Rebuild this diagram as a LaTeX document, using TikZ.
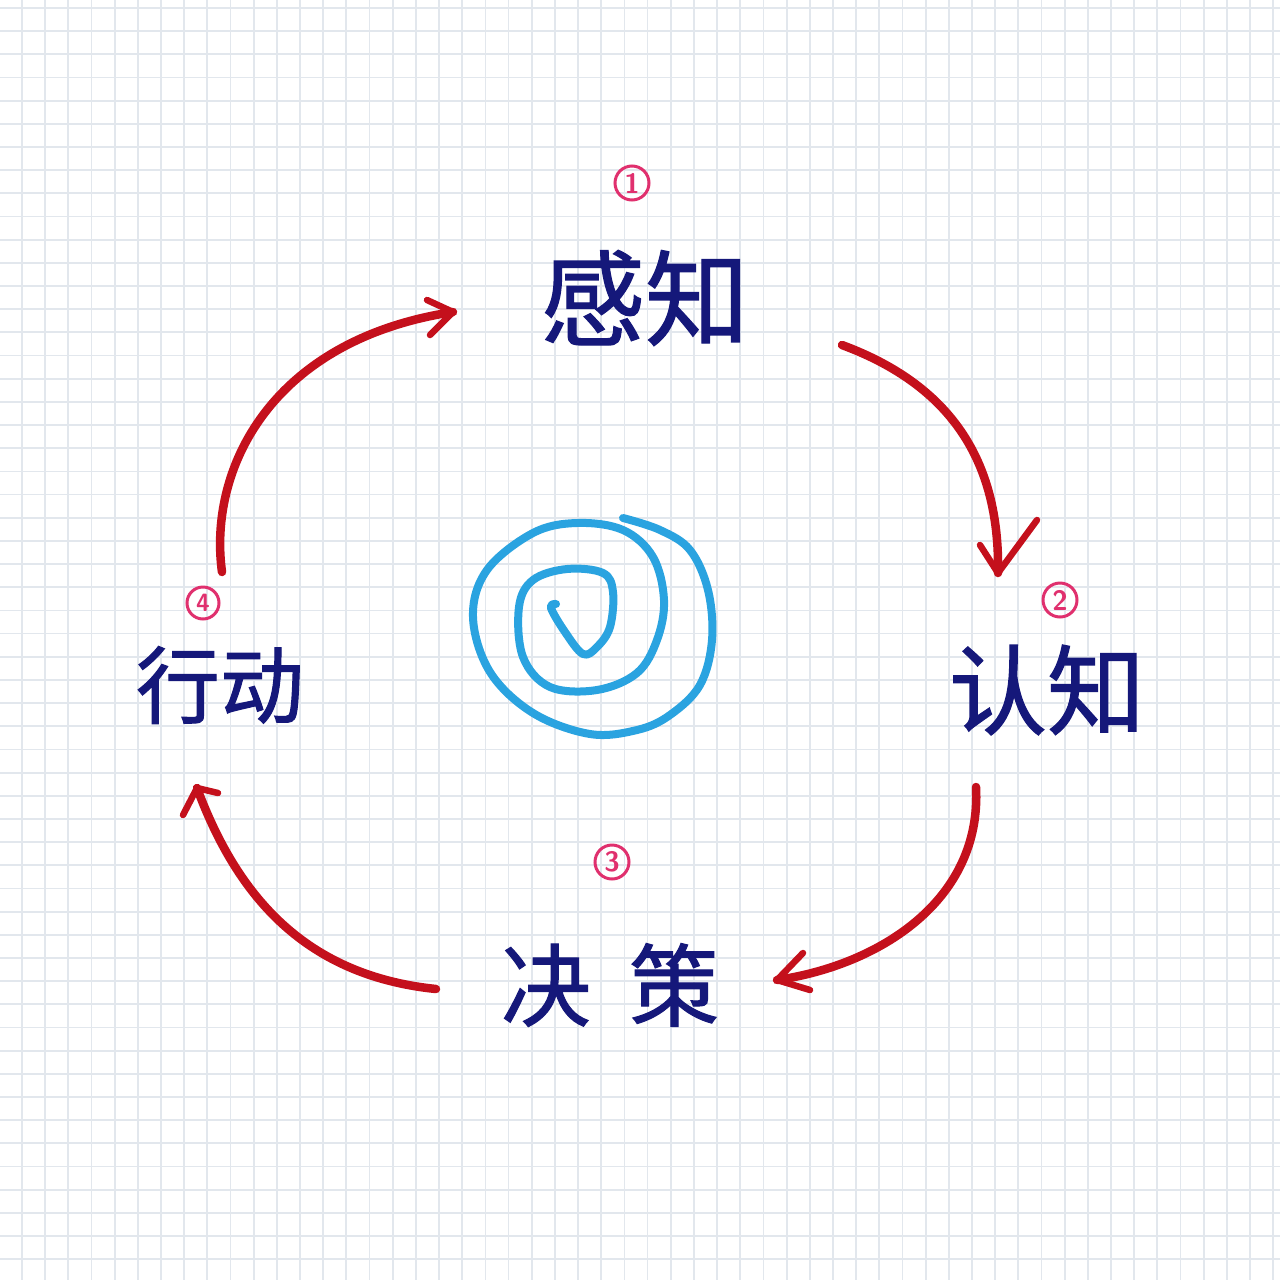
\documentclass[tikz,border=0pt]{standalone}
\usepackage{fontspec}
\newfontfamily\cjk[FakeBold=1.2]{Noto Sans CJK SC}
\usetikzlibrary{calc}
\definecolor{gridc}{HTML}{E2E7ED}
\definecolor{ink}{HTML}{15187A}
\definecolor{redpen}{HTML}{C4101C}
\definecolor{pinkpen}{HTML}{E0306E}
\definecolor{bluepen}{HTML}{2AA3E0}
\tikzset{
  word/.style={text=ink, inner sep=0pt},
  flow/.style={draw=redpen, line width=8.5pt, line cap=round, line join=round},
  tipline/.style={draw=redpen, line width=6.5pt, line cap=round, line join=round},
  numc/.style={draw=pinkpen, circle, line width=3pt, minimum size=34pt, inner sep=0pt, text=pinkpen, font=\sffamily\bfseries\fontsize{28}{28}\selectfont},
  spiral/.style={draw=bluepen, line width=8pt, line cap=round, line join=round}
}
\begin{document}
\begin{tikzpicture}[x=1pt,y=-1pt]
\useasboundingbox (0,0) rectangle (1280,1280);
\fill[white] (0,0) rectangle (1280,1280);
% grid
\foreach \i in {0,...,54} {
  \draw[gridc, line width=1.8pt] ({22+23.17*\i},0) -- ({22+23.17*\i},1280);
}
\foreach \i in {0,...,55} {
  \draw[gridc, line width=1.8pt] (0,{8+23.17*\i}) -- (1280,{8+23.17*\i});
}
% words
\node[word, font=\cjk\fontsize{104}{104}\selectfont] (per) at (645,298) {感知};
\node[word, font=\cjk\fontsize{98}{98}\selectfont] (cog) at (1047,690) {认知};
\node[word, font=\cjk\fontsize{90}{90}\selectfont] (dec) at (610,985) {决\hspace{38pt}策};
\node[word, font=\cjk\fontsize{84}{84}\selectfont] (act) at (220,685) {行动};
% numbers
\node[numc] (n1) at (632,183) {1};
\node[numc] (n2) at (1060,600) {2};
\node[numc] (n3) at (612,862) {3};
\node[numc, minimum size=32pt, font=\sffamily\bfseries\fontsize{25}{25}\selectfont] (n4) at (203,603) {4};
% arrow coordinates
\coordinate (a1s) at (222,572); \coordinate (a1e) at (453,312);
\coordinate (a2s) at (842,345); \coordinate (a2e) at (998,573);
\coordinate (a3s) at (976,787); \coordinate (a3e) at (777,980);
\coordinate (a4s) at (436,989); \coordinate (a4e) at (197,788);
% arrow 1: act -> per
\draw[flow] (a1s) .. controls (208,470) and (270,340) .. (a1e);
\draw[tipline] (427,300) -- (a1e) -- (430,335);
% arrow 2: per -> cog
\draw[flow] (a2s) .. controls (950,385) and (1000,460) .. (a2e);
\draw[tipline] (980,545) -- (a2e) -- (1037,520);
% arrow 3: cog -> dec
\draw[flow] (a3s) .. controls (982,900) and (880,965) .. (a3e);
\draw[tipline] (803,953) -- (a3e) -- (810,990);
% arrow 4: dec -> act
\draw[flow] (a4s) .. controls (300,975) and (235,890) .. (a4e);
\draw[tipline] (183,815) -- (a4e) -- (218,793);
% spiral
\draw[spiral] plot[smooth, tension=0.6] coordinates {
 (623,518) (660,530) (690,550) (708,590) (712,640) (700,685) (670,715) (637,730) (590,734)
 (533,713) (490,672) (473,617) (487,570) (533,533) (577,523) (623,530) (653,557)
 (664,600) (657,640) (637,673) (597,690) (550,687) (523,657) (519,607) (533,580)
 (567,569) (603,573) (613,592) (610,627) (597,647) (583,654) (565,632) (551,608) (556,604)};
\end{tikzpicture}
\end{document}
